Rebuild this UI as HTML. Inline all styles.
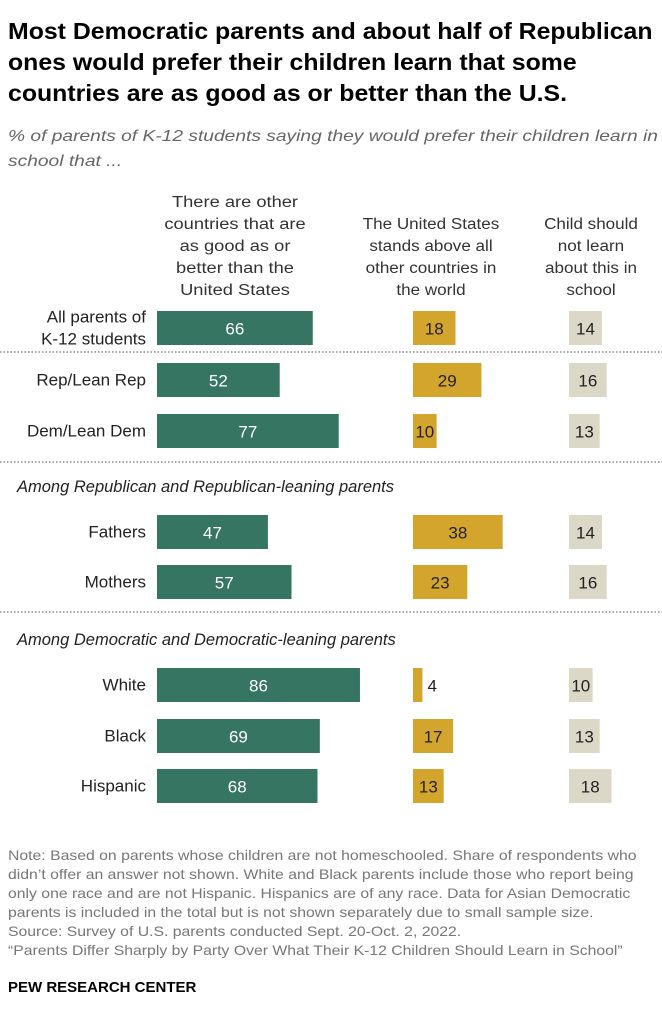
<!DOCTYPE html>
<html><head><meta charset="utf-8"><style>
body{margin:0;background:#fff;font-family:"Liberation Sans",sans-serif;}
#wrap{position:relative;width:662px;height:1024px;overflow:hidden;}
.t{position:absolute;white-space:nowrap;}
</style></head><body>
<div id="wrap">
<div class="t" style="left:8px;top:16px;font-size:23px;font-weight:bold;line-height:31px;color:#000;transform:scaleX(1.08);transform-origin:0 0;">Most Democratic parents and about half of Republican<br>ones would prefer their children learn that some<br>countries are as good as or better than the U.S.</div>
<div class="t" style="left:8px;top:124px;font-size:16px;font-style:italic;line-height:25px;color:#666;transform:scaleX(1.2);transform-origin:0 0;">% of parents of K-12 students saying they would prefer their children learn in<br>school that ...</div>
<div class="t" style="left:140px;top:192px;width:190px;text-align:center;font-size:15.5px;line-height:22px;color:#333;transform:scaleX(1.18);">There are other<br>countries that are<br>as good as or<br>better than the<br>United States</div>
<div class="t" style="left:361px;top:214px;width:140px;text-align:center;font-size:15.5px;line-height:22px;color:#333;transform:scaleX(1.1);">The United States<br>stands above all<br>other countries in<br>the world</div>
<div class="t" style="left:536px;top:214px;width:110px;text-align:center;font-size:15.5px;line-height:22px;color:#333;transform:scaleX(1.1);">Child should<br>not learn<br>about this in<br>school</div>
<svg id="svg" width="662" height="1024" style="position:absolute;left:0;top:0"></svg>
<div class="t" style="left:8px;top:846px;font-size:13.6px;line-height:19px;color:#777;transform:scaleX(1.16);transform-origin:0 0;">Note: Based on parents whose children are not homeschooled. Share of respondents who<br>didn’t offer an answer not shown. White and Black parents include those who report being<br>only one race and are not Hispanic. Hispanics are of any race. Data for Asian Democratic<br>parents is included in the total but is not shown separately due to small sample size.<br>Source: Survey of U.S. parents conducted Sept. 20-Oct. 2, 2022.<br>“Parents Differ Sharply by Party Over What Their K-12 Children Should Learn in School”</div>
<div class="t" style="left:8px;top:979px;font-size:15px;font-weight:bold;color:#000;">PEW RESEARCH CENTER</div>
</div>
<script>
const categories=["All parents of|K-12 students","Rep/Lean Rep","Dem/Lean Dem","Fathers","Mothers","White","Black","Hispanic"];
const otherCountries=[66,52,77,47,57,86,69,68];
const usAbove=[18,29,10,38,23,4,17,13];
const notLearn=[14,16,13,14,16,10,13,18];
const rowY=[328,380,431,532,582,685,736,786];
const NS="http://www.w3.org/2000/svg";
const svg=document.getElementById('svg');
const k=2.36,bh=34;
function x(v){return v*k;}
function mk(tag,attrs){const e=document.createElementNS(NS,tag);for(const a in attrs)e.setAttribute(a,attrs[a]);svg.appendChild(e);return e;}
function txt(s,xx,yy,anchor,fill,size,style){const t=mk('text',{x:xx,y:yy,'text-anchor':anchor,fill:fill,'font-size':size,'font-family':'Liberation Sans, sans-serif','dominant-baseline':'central'});if(style)t.setAttribute('font-style',style);t.textContent=s;return t;}
const series=[{d:otherCountries,x0:157,c:'#377563',tc:'#fff',name:'other-countries'},{d:usAbove,x0:413,c:'#d4a52c',tc:'#222',name:'us-above'},{d:notLearn,x0:569,c:'#dcd8c8',tc:'#222',name:'not-learn'}];
categories.forEach((c,i)=>{
 const y=rowY[i];
 const parts=c.split('|');
 if(parts.length===2){
  const a=txt(parts[0],146,y-11,'end','#222',17);
  
  
  const b=txt(parts[1],146,y+11,'end','#222',17);
  
  
 } else {
  const a=txt(c,146,y,'end','#222',17);
  
  
 }
 series.forEach(s=>{
  const v=s.d[i];const w=x(v);
  const r=mk('rect',{x:s.x0,y:y-bh/2,width:w,height:bh,fill:s.c});
  
  
  const small=w<15;
  const t=txt(String(v),small?s.x0+w+5:s.x0+w/2,y+1,small?'start':'middle',small?'#222':s.tc,17);
  
  
 });
});
[352,462,612].forEach(yy=>{
 const l=mk('line',{x1:0,x2:662,y1:yy,y2:yy,stroke:'#888','stroke-width':1.5,'stroke-dasharray':'1.5,2'});
 
 
});
const s1=txt('Among Republican and Republican-leaning parents',17,487,'start','#222',16.5,'italic');


const s2=txt('Among Democratic and Democratic-leaning parents',17,640,'start','#222',16.5,'italic');


</script>
</body></html>
